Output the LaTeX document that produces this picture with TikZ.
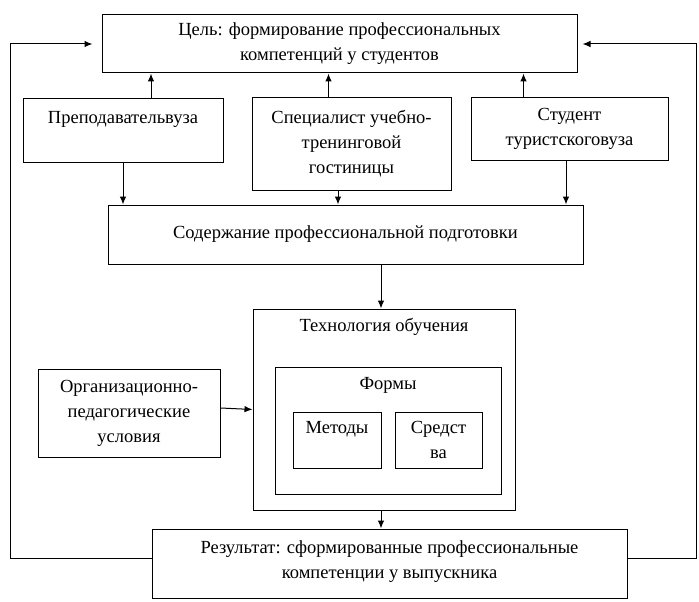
\documentclass[tikz,border=0pt]{standalone}
\usepackage{fontspec}
\setmainfont{Liberation Serif}
\usetikzlibrary{arrows.meta}
\tikzset{
    blk/.style={rectangle,draw,line width=1pt,align=center,inner sep=2pt,font=\fontsize{18.5}{25}\selectfont},
    dedge/.style={->,> = {Latex[length=8pt,width=6.5pt]}, line width=1pt, draw=black},
    title/.style={font=\fontsize{18.5}{25}\selectfont},
}

\begin{document}
\begin{tikzpicture}[x=1pt,y=-1pt]
    \useasboundingbox (0,0) rectangle (699,602);
    \node[blk,minimum width=475pt,minimum height=58pt] (goal) at (339.5,44) {Цель: формирование профессиональных\\компетенций у студентов};
    \node[blk,minimum width=200pt,minimum height=64pt] (teacher) at (123,130) {Преподавательвуза\\~};
    \node[blk,minimum width=199pt,minimum height=93pt] (spec) at (351.5,143.5) {Специалист учебно-\\тренинговой\\гостиницы};
    \node[blk,minimum width=197pt,minimum height=63pt] (student) at (569.5,128.5) {Студент\\туристскоговуза};
    \node[blk,minimum width=475pt,minimum height=59pt] (content) at (345.5,234.5) {Содержание профессиональной подготовки};
    \node[blk,minimum width=262pt,minimum height=201pt] (tech) at (384,409.5) {};
    \node[title] (techname) at (384,327) {Технология обучения};
    \node[blk,minimum width=226pt,minimum height=127pt] (forms) at (388,430.5) {};
    \node[title] (formsname) at (388,385) {Формы};
    \node[blk,minimum width=88pt,minimum height=56pt] (methods) at (337,440) {Методы\\~};
    \node[blk,minimum width=87pt,minimum height=56pt] (means) at (438.5,440) {Средст\\ва};
    \node[blk,minimum width=182pt,minimum height=88pt] (org) at (129,413) {Организационно-\\педагогические\\условия};
    \node[blk,minimum width=475pt,minimum height=69pt,text depth=8pt] (result) at (389.5,563.5) {Результат: сформированные профессиональные\\компетенции у выпускника};
    \coordinate (fbl) at (10,44);
    \coordinate (fbr) at (696,44);
    \draw[dedge] ([xshift=28pt]teacher.north) -- ([xshift=28pt]teacher.north |- goal.south);
    \draw[dedge] ([xshift=-23pt]spec.north) -- ([xshift=-23pt]spec.north |- goal.south);
    \draw[dedge] ([xshift=-46pt]student.north) -- ([xshift=-46pt]student.north |- goal.south);
    \draw[dedge] (teacher.south) -- (teacher.south |- content.north);
    \draw[dedge] ([xshift=-13.5pt]spec.south) -- ([xshift=-13.5pt]spec.south |- content.north);
    \draw[dedge] ([xshift=-3.5pt]student.south) -- ([xshift=-3.5pt]student.south |- content.north);
    \draw[dedge] ([xshift=35.5pt]content.south) -- ([xshift=35.5pt]content.south |- tech.north);
    \draw[dedge] ([xshift=-3pt]tech.south) -- ([xshift=-3pt]tech.south |- result.north);
    \draw[dedge] ([yshift=5pt]org.east) -- (tech.west);
    \draw[dedge] ([yshift=5pt]result.west) -| (fbl) -- ([xshift=-9pt]goal.west);
    \draw[dedge] ([yshift=5pt]result.east) -| (fbr) -- ([xshift=5pt]goal.east);
\end{tikzpicture}
\end{document}
